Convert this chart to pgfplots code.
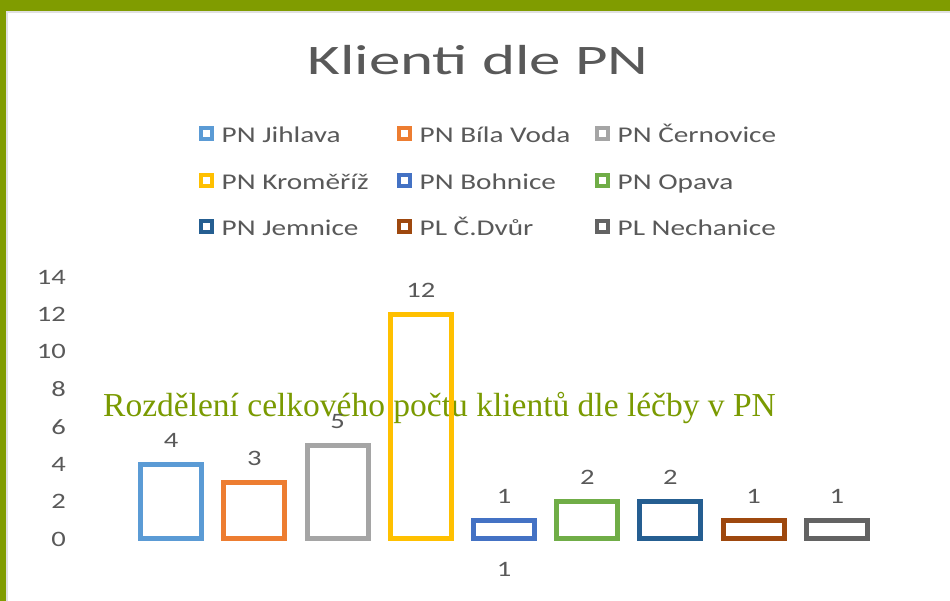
\documentclass[border=0pt]{standalone}
\usepackage{pgfplots}
\pgfplotsset{compat=1.18}
\usepackage{fontspec}
\setmainfont[FakeStretch=1.3]{Carlito}
\newfontfamily\titlefont[FakeStretch=1.5]{Carlito}
\newfontfamily\overlayfont{Liberation Serif}
\definecolor{bordergreen}{RGB}{128,156,0}
\definecolor{overgreen}{RGB}{122,154,1}
\definecolor{txtgray}{RGB}{89,89,89}
\definecolor{c1}{HTML}{5B9BD5}
\definecolor{c2}{HTML}{ED7D31}
\definecolor{c3}{HTML}{A5A5A5}
\definecolor{c4}{HTML}{FFC000}
\definecolor{c5}{HTML}{4472C4}
\definecolor{c6}{HTML}{70AD47}
\definecolor{c7}{HTML}{255E91}
\definecolor{c8}{HTML}{9E480E}
\definecolor{c9}{HTML}{636363}
\begin{document}
\begin{tikzpicture}[x=1pt,y=1pt]
\path[use as bounding box] (0,0) rectangle (950,601);
\fill[white] (0,0) rectangle (950,601);
\fill[bordergreen] (0,590) rectangle (950,601);
\fill[bordergreen] (0,0) rectangle (6,601);
\draw[black!12, line width=1.5pt] (7,0) -- (7,589) -- (950,589);
\node[anchor=base, text=txtgray, inner sep=0pt] at (478,526) {\titlefont\fontsize{42}{48}\selectfont Klienti dle PN};
\node[anchor=base west, text=overgreen, inner sep=0pt] at (103,184) {\overlayfont\fontsize{33.5}{38}\selectfont Rozdělení celkového počtu klientů dle léčby v PN};
\begin{axis}[
  at={(129.4pt,62pt)}, anchor=south west,
  scale only axis, width=749.2pt, height=262pt,
  xmin=-0.5, xmax=8.5, ymin=0, ymax=14,
  ybar, bar width=61pt,
  axis line style={draw=none},
  major tick length=0pt,
  ytick={0,2,...,14},
  xtick={4}, xticklabels={1},
  tick label style={font=\fontsize{22}{26}\selectfont, text=txtgray},
  /pgf/number format/assume math mode=true,
  yticklabel style={xshift=-60pt},
  xticklabel style={yshift=-20pt},
  nodes near coords,
  every node near coord/.append style={font=\fontsize{22}{26}\selectfont, text=txtgray, yshift=11pt},
  legend columns=3,
  legend style={at={(0.0922,1.5763)}, anchor=north west, draw=none, fill=none,
    inner sep=0pt, font=\fontsize{22.5}{26}\selectfont, text=txtgray,
    nodes={inner sep=0pt, text height=16pt, text depth=5pt},
    row sep=25pt, column sep=0pt,
    /tikz/every odd column/.append style={column sep=8pt}},
  legend image code/.code={\draw[#1, line width=4pt, fill=white] (0pt,-2pt) rectangle (11pt,9pt);},
  clip=false,
]
\addplot[draw=c1, line width=5pt, fill=none, bar shift=0pt] coordinates {(0,4)};
\addlegendentry{\makebox[175pt][l]{PN Jihlava}}
\addplot[draw=c2, line width=5pt, fill=none, bar shift=0pt] coordinates {(1,3)};
\addlegendentry{\makebox[175pt][l]{PN Bíla Voda}}
\addplot[draw=c3, line width=5pt, fill=none, bar shift=0pt] coordinates {(2,5)};
\addlegendentry{\makebox[175pt][l]{PN Černovice}}
\addplot[draw=c4, line width=5pt, fill=none, bar shift=0pt] coordinates {(3,12)};
\addlegendentry{\makebox[175pt][l]{PN Kroměříž}}
\addplot[draw=c5, line width=5pt, fill=none, bar shift=0pt] coordinates {(4,1)};
\addlegendentry{\makebox[175pt][l]{PN Bohnice}}
\addplot[draw=c6, line width=5pt, fill=none, bar shift=0pt] coordinates {(5,2)};
\addlegendentry{\makebox[175pt][l]{PN Opava}}
\addplot[draw=c7, line width=5pt, fill=none, bar shift=0pt] coordinates {(6,2)};
\addlegendentry{\makebox[175pt][l]{PN Jemnice}}
\addplot[draw=c8, line width=5pt, fill=none, bar shift=0pt] coordinates {(7,1)};
\addlegendentry{\makebox[175pt][l]{PL Č.Dvůr}}
\addplot[draw=c9, line width=5pt, fill=none, bar shift=0pt] coordinates {(8,1)};
\addlegendentry{\makebox[175pt][l]{PL Nechanice}}
\end{axis}
\end{tikzpicture}
\end{document}
